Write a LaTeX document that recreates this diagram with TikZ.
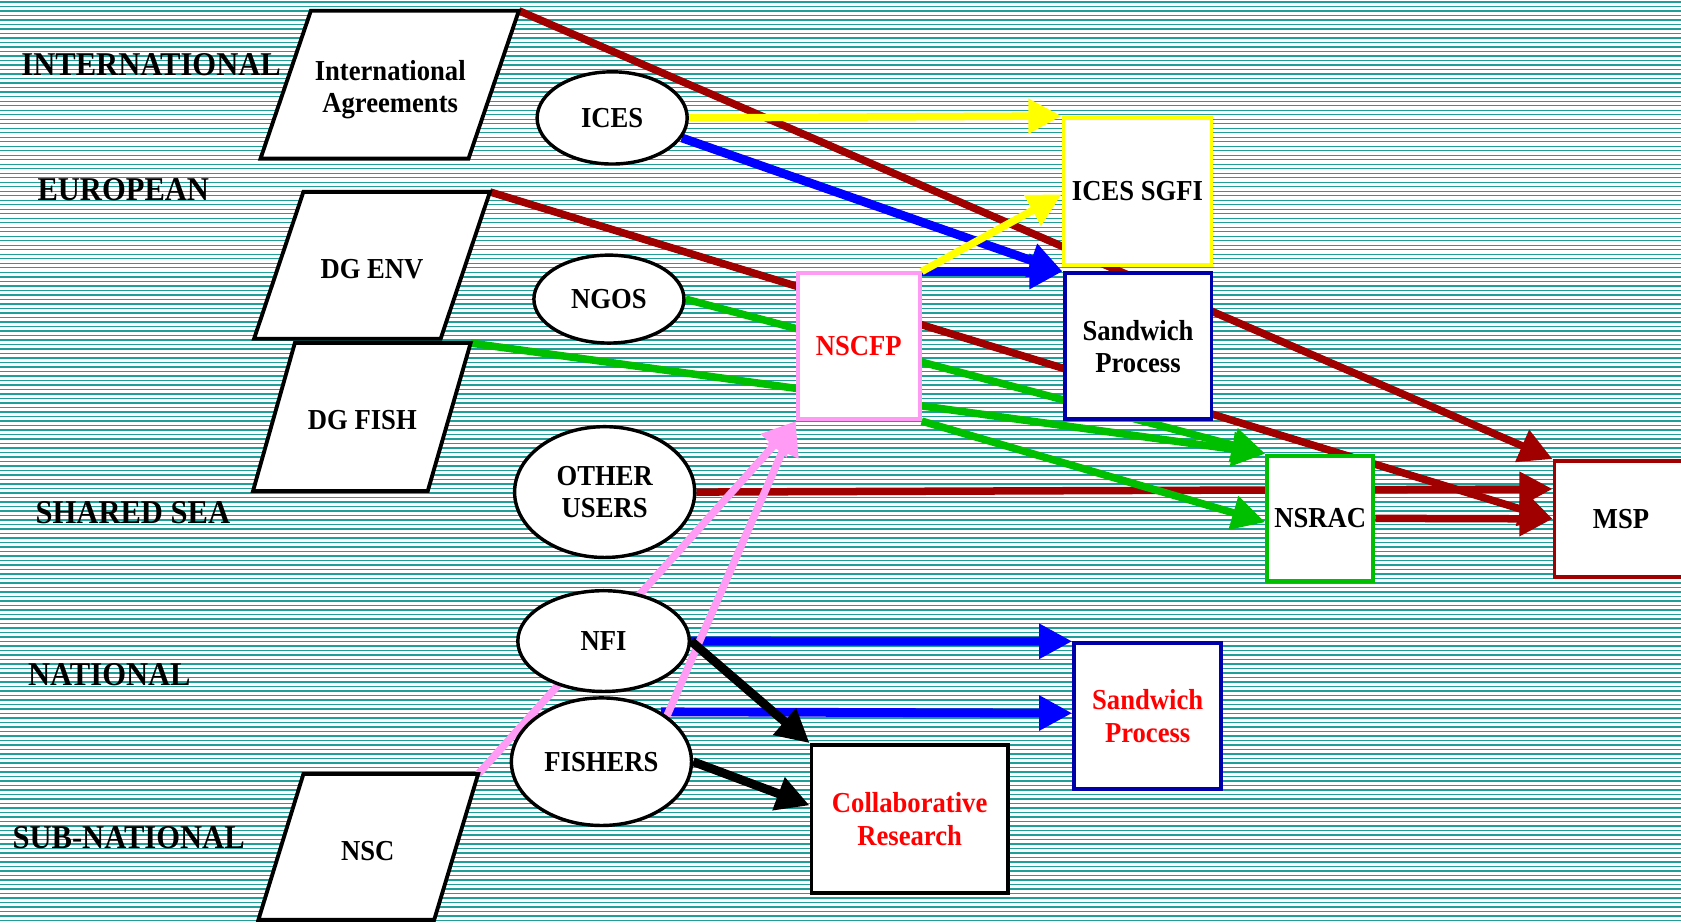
\documentclass[tikz,border=0pt]{standalone}
\usepackage{fontspec}
\setmainfont{Liberation Serif}[FakeStretch=0.92]
\usetikzlibrary{shapes.geometric,arrows.meta,calc}
\pgfdeclarelayer{bg}\pgfdeclarelayer{fg}\pgfsetlayers{bg,main,fg}
\definecolor{dred}{RGB}{160,0,0}
\definecolor{tealA}{RGB}{30,160,152}
\definecolor{grn}{RGB}{0,190,0}
\definecolor{pnk}{RGB}{255,155,245}
\definecolor{ylw}{RGB}{255,255,0}
\definecolor{blu}{RGB}{0,0,255}
\definecolor{dblu}{RGB}{0,0,170}
\definecolor{txtred}{RGB}{255,0,0}
\begin{document}
\begin{tikzpicture}[x=0.5pt,y=-0.5pt,
  txt/.style={font=\bfseries\fontsize{13.5}{15}\selectfont, align=center},
  lvl/.style={font=\bfseries\fontsize{15.5}{17}\selectfont, inner sep=0pt},
  box/.style={txt, rectangle, fill=white, line width=1.8pt, inner sep=0pt},
  ell/.style={txt, ellipse, draw=black, fill=white, line width=1.6pt, inner sep=0pt},
  para/.style={draw=black, fill=white, line width=1.8pt, line join=miter},
  conn/.style={line width=3.5pt, -{Triangle[length=15.5pt,width=15.5pt]}},
  thick conn/.style={conn, line width=4.1pt}]
\useasboundingbox (0,0) rectangle (1568,861);
\begin{pgfonlayer}{bg}
  \fill[white] (0,0) rectangle (1568,861);
  \foreach \i in {0,...,205} \draw[tealA, line width=0.65pt] (0,{2+\i*4.2}) -- (1568,{2+\i*4.2});
\end{pgfonlayer}
\begin{pgfonlayer}{fg}
  % level labels
  \node[lvl] (lint) at (141,60) {INTERNATIONAL};
  \node[lvl] (leur) at (115,177) {EUROPEAN};
  \node[lvl] (lsea) at (124,478) {SHARED SEA};
  \node[lvl] (lnat) at (102,629) {NATIONAL};
  \node[lvl] (lsub) at (120,781) {SUB-NATIONAL};
  % parallelograms
  \draw[para] (290,10) -- (484,10) -- (437,148) -- (243,148) -- cycle;
  \coordinate (iatr) at (484,10);
  \node[txt] (ia) at (364,84) {International\\Agreements};
  \draw[para] (283,179) -- (457,179) -- (411,316) -- (237,316) -- cycle;
  \coordinate (envtr) at (457,179);
  \node[txt] (dgenv) at (347,251) {DG ENV};
  \draw[para] (275,320) -- (439,320) -- (399,458) -- (236,458) -- cycle;
  \coordinate (fishtr) at (439,320);
  \node[txt] (dgfish) at (338,392) {DG FISH};
  \draw[para] (283,722) -- (446,722) -- (405,858) -- (241,858) -- cycle;
  \coordinate (nsctr) at (446,722);
  \node[txt] (nsc) at (343,794) {NSC};
  % ellipses
  \node[ell, minimum width=70pt, minimum height=43pt] (ices) at (571,110) {ICES};
  \node[ell, minimum width=70pt, minimum height=41pt] (ngos) at (568,279) {NGOS};
  \node[ell, minimum width=84pt, minimum height=61pt] (ou) at (564,459) {OTHER\\USERS};
  \node[ell, minimum width=80pt, minimum height=47pt] (nfi) at (563,598) {NFI};
  \node[ell, minimum width=84pt, minimum height=59.5pt] (fishers) at (561,710.5) {FISHERS};
  % boxes
  \node[box, draw=ylw, minimum width=69pt, minimum height=68.5pt] (sgfi) at (1061,178.5) {ICES SGFI};
  \node[box, draw=dblu, minimum width=68.5pt, minimum height=68pt] (sp1) at (1061.5,323) {Sandwich\\Process};
  \node[box, draw=pnk, text=txtred, minimum width=57pt, minimum height=68pt] (nscfp) at (801,323) {NSCFP};
  \node[box, draw=grn, minimum width=49.5pt, minimum height=58.5pt] (nsrac) at (1231.5,483.5) {NSRAC};
  \node[box, draw=dred, minimum width=62pt, minimum height=54pt] (msp) at (1512,484) {MSP};
  \node[box, draw=dblu, text=txtred, minimum width=68.5pt, minimum height=68pt] (sp2) at (1070.5,668) {Sandwich\\Process};
  \node[box, draw=black, text=txtred, minimum width=91.5pt, minimum height=69pt] (collab) at (848.5,764) {Collaborative\\Research};
\end{pgfonlayer}
% connectors
\draw[conn, dred] (iatr) -- (msp.north west);
\draw[conn, dred] (envtr) -- (msp.west);
\draw[conn, dred] (ou.east) -- ($(msp.north west)!0.25!(msp.south west)$);
\draw[conn, dred] (nsrac.east) -- (msp.west);
\draw[conn, grn] (ngos.east) -- (nsrac.north west);
\draw[conn, grn] (fishtr) -- (nsrac.north west);
\draw[conn, grn] (nscfp.south east) -- ($(nsrac.north west)!0.53!(nsrac.south west)$);
\draw[thick conn, blu] (ices.-16) -- (sp1.north west);
\draw[thick conn, blu] (nscfp.north east) -- (sp1.north west);
\draw[thick conn, blu] (nfi.east) -- (sp2.north west);
\draw[thick conn, blu] (fishers.40) -- ($(sp2.north west)!0.48!(sp2.south west)$);
\draw[conn, ylw] (ices.east) -- (sgfi.north west);
\draw[conn, ylw] (nscfp.north east) -- ($(sgfi.north west)!0.52!(sgfi.south west)$);
\draw[conn, pnk] (nsctr) -- (nscfp.south west);
\draw[conn, pnk] (fishers.35) -- (nscfp.south west);
\draw[thick conn, black] (nfi.east) -- (collab.north west);
\draw[thick conn, black] (fishers.east) -- ($(collab.north west)!0.41!(collab.south west)$);
\end{tikzpicture}
\end{document}
